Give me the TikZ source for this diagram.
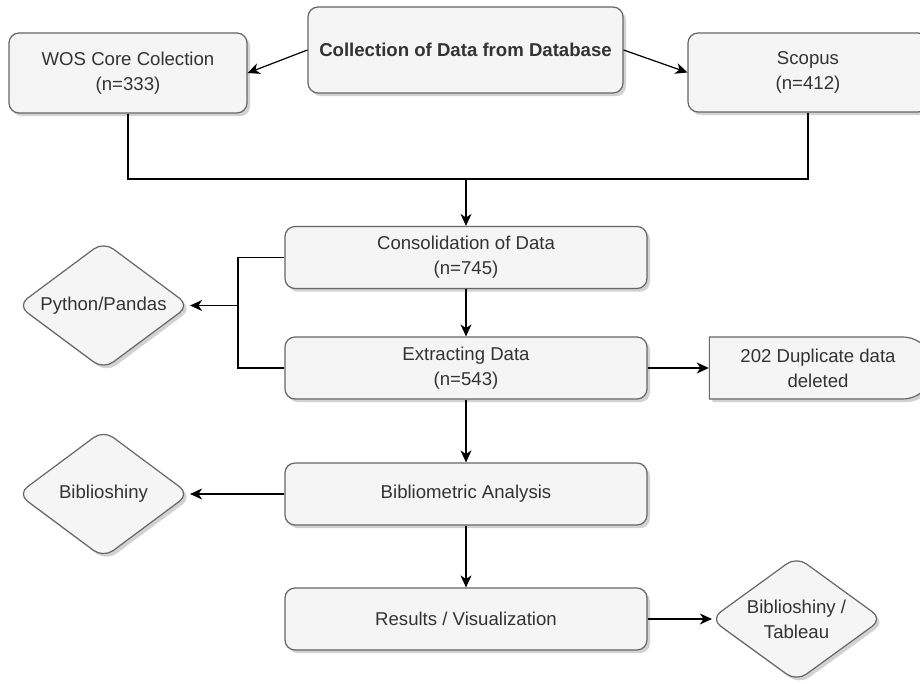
\documentclass[tikz,border=0pt]{standalone}
\usepackage{fontspec}
\setmainfont{Liberation Sans}
\usetikzlibrary{shapes.geometric,shapes.misc,arrows.meta,shadows}
\definecolor{boxfill}{HTML}{F5F5F5}
\definecolor{boxline}{HTML}{666666}
\definecolor{boxtext}{HTML}{333333}

\begin{document}
\begin{tikzpicture}[x=0.5pt,y=-0.5pt,
    font=\fontsize{9.3}{12.5}\selectfont,
    base/.style={draw=boxline,fill=boxfill,text=boxtext,line width=0.6pt,align=center,inner sep=2pt,
      drop shadow={shadow xshift=1.5pt,shadow yshift=-1.6pt,fill=black!35}},
    box/.style={base,rectangle,rounded corners=5pt},
    tool/.style={base,diamond,aspect=1.4,inner sep=0pt,rounded corners=6pt,minimum width=86pt,minimum height=64pt},
    arr/.style={-{Stealth[length=6pt,width=5.5pt,inset=1.8pt]},line width=0.6pt}]
  \useasboundingbox (0,0) rectangle (920,684);
    % sources
    \node[box,minimum width=157.5pt,minimum height=43pt,font=\fontsize{9.3}{12.5}\selectfont\bfseries] (coll) at (465.5,50) {Collection of Data from Database};
    \node[box,minimum width=119pt,minimum height=40pt] (wos) at (128,73) {WOS Core Colection\\(n=333)};
    \node[box,minimum width=120pt,minimum height=39.5pt] (scop) at (808,72.5) {Scopus\\(n=412)};
    \draw[arr] (coll.west) -- (wos.east);
    \draw[arr] (coll.east) -- (scop.west);
    % main steps
    \foreach \nm/\yy/\txt in {cons/257.5/{Consolidation of Data\\(n=745)},extr/368/{Extracting Data\\(n=543)},
        bibl/494/{Bibliometric Analysis},res/619/{Results / Visualization}} {
        \node[box,minimum width=181pt,minimum height=31pt] (\nm) at (466,\yy) {\txt};
        }
    \coordinate (mrg) at (466,179);
    \draw[line width=0.6pt] (wos.south) |- (mrg) -| (scop.south);
    \draw[arr] (mrg) -- (cons.north);
    \draw[arr] (cons) -- (extr);
    \draw[arr] (extr) -- (bibl);
    \draw[arr] (bibl) -- (res);
    % tools
    \node[tool] (py) at (103.5,305.5) {Python/Pandas};
    \node[tool] (bsh) at (103.5,494) {Biblioshiny};
    \node[tool,minimum height=62.5pt] (bst) at (796.5,619) {Biblioshiny /\\Tableau};
    \node[base,rounded rectangle,rounded rectangle left arc=none,minimum width=116pt,minimum height=31pt] (dup) at (818,368) {202 Duplicate data\\deleted};
    \coordinate (br) at (238,305.5);
    \draw[line width=0.6pt] (cons.west) -| (br) |- (extr.west);
    \draw[arr] (br) -- (py.east);
    \draw[arr] (extr.east) -- (dup.west);
    \draw[arr] (bibl.west) -- (bsh.east);
    \draw[arr,shorten >=-1pt] (res.east) -- (bst.west);
\end{tikzpicture}
\end{document}
